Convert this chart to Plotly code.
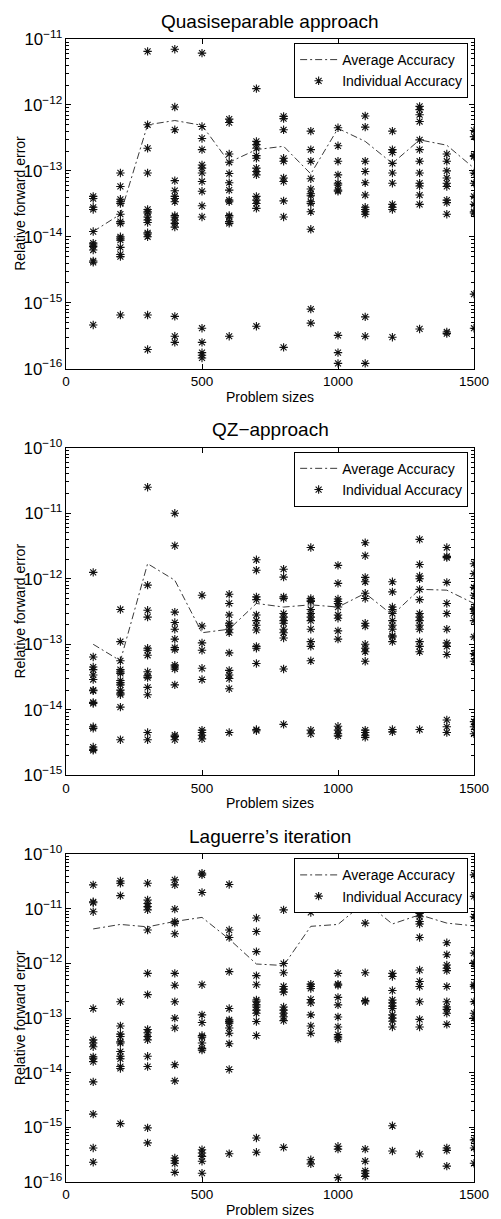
import plotly.graph_objects as go

# Problem sizes tested
sizes = [100, 200, 300, 400, 500, 600, 700, 800, 900, 1000, 1100, 1200, 1300, 1400, 1500]

# ---- Quasiseparable approach ----
qs_avg = [1.2e-14, 2.2e-14, 5.0e-13, 5.8e-13, 4.9e-13, 1.35e-13, 2.1e-13, 2.36e-13,
          9.0e-14, 4.4e-13, 2.8e-13, 1.3e-13, 2.95e-13, 2.45e-13, 1.1e-13]
qs_individual = [
    [4.1e-14, 3.8e-14, 2.8e-14, 2.6e-14, 1.2e-14, 8.0e-15, 7.5e-15, 7.1e-15, 6.3e-15, 4.3e-15, 4.1e-15, 4.6e-16],
    [9.3e-14, 5.8e-14, 3.7e-14, 3.4e-14, 3.2e-14, 2.2e-14, 1.7e-14, 1.6e-14, 1.0e-14, 9.5e-15, 8.9e-15, 6.9e-15, 5.4e-15, 5.0e-15, 6.5e-16],
    [6.5e-12, 5.0e-13, 2.2e-13, 9.3e-14, 2.6e-14, 2.4e-14, 2.3e-14, 2.0e-14, 1.8e-14, 1.65e-14, 1.15e-14, 1.1e-14, 1.0e-14, 6.5e-16, 1.95e-16],
    [7.0e-12, 9.3e-13, 4.2e-13, 7.1e-14, 5.0e-14, 4.1e-14, 3.8e-14, 3.4e-14, 2.1e-14, 2.0e-14, 1.8e-14, 1.6e-14, 1.4e-14, 6.2e-16, 3.1e-16, 2.5e-16],
    [6.1e-12, 4.7e-13, 3.1e-13, 2.1e-13, 1.23e-13, 1.1e-13, 9.3e-14, 6.9e-14, 4.9e-14, 2.95e-14, 2.0e-14, 4.1e-16, 2.5e-16, 1.75e-16, 1.6e-16, 1.45e-16],
    [6.1e-13, 5.4e-13, 1.8e-13, 1.35e-13, 9.1e-14, 6.6e-14, 5.1e-14, 3.6e-14, 3.4e-14, 2.1e-14, 2.0e-14, 1.7e-14, 1.6e-14, 3.1e-16],
    [1.77e-12, 2.8e-13, 2.5e-13, 2.2e-13, 1.7e-13, 1.55e-13, 1.1e-13, 9.8e-14, 8.7e-14, 4.1e-14, 3.6e-14, 3.2e-14, 2.7e-14, 4.4e-16],
    [6.7e-13, 6.2e-13, 4.2e-13, 1.55e-13, 1.4e-13, 7.8e-14, 6.9e-14, 3.5e-14, 2.0e-14, 2.1e-16],
    [4.0e-13, 2.1e-13, 1.4e-13, 7.6e-14, 5.3e-14, 4.5e-14, 4.2e-14, 3.4e-14, 3.2e-14, 2.4e-14, 1.3e-14, 8.0e-16, 4.9e-16],
    [4.5e-13, 2.4e-13, 1.4e-13, 8.7e-14, 6.5e-14, 6.1e-14, 5.1e-14, 4.9e-14, 3.2e-16, 1.75e-16, 1.2e-16],
    [6.8e-13, 4.6e-13, 1.4e-13, 9.8e-14, 6.6e-14, 4.3e-14, 2.8e-14, 2.6e-14, 2.4e-14, 2.2e-14, 6.1e-16, 3.1e-16, 1.2e-16],
    [4.0e-13, 2.1e-13, 1.9e-13, 1.3e-13, 9.3e-14, 6.5e-14, 3.1e-14, 2.8e-14, 2.6e-14, 3.0e-16],
    [9.5e-13, 8.5e-13, 7.1e-13, 5.6e-13, 2.95e-13, 2.1e-13, 1.4e-13, 9.3e-14, 6.5e-14, 5.9e-14, 4.3e-14, 3.1e-14, 4.0e-16],
    [1.8e-13, 1.4e-13, 1.0e-13, 7.8e-14, 6.5e-14, 5.8e-14, 3.6e-14, 3.3e-14, 2.2e-14, 3.6e-16, 3.4e-16],
    [4.1e-13, 3.3e-13, 1.7e-13, 1.65e-13, 9.3e-14, 6.5e-14, 4.1e-14, 3.1e-14, 2.4e-14, 2.3e-14, 1.35e-15, 4.1e-16],
]

# ---- QZ approach ----
qz_avg = [1.0e-13, 5.6e-14, 1.7e-12, 9.5e-13, 1.5e-13, 1.7e-13, 4.2e-13, 3.7e-13,
          4.0e-13, 3.7e-13, 6.0e-13, 2.8e-13, 6.9e-13, 6.7e-13, 4.2e-13]
qz_individual = [
    [1.25e-12, 6.4e-14, 4.5e-14, 4.1e-14, 3.4e-14, 2.9e-14, 2.0e-14, 1.95e-14, 1.3e-14, 1.25e-14, 5.5e-15, 5.2e-15, 2.7e-15, 2.5e-15, 2.4e-15],
    [3.4e-13, 1.1e-13, 5.6e-14, 4.1e-14, 3.8e-14, 3.6e-14, 2.8e-14, 2.6e-14, 2.4e-14, 2.0e-14, 1.8e-14, 1.7e-14, 1.1e-14, 3.5e-15],
    [2.5e-11, 8.0e-13, 3.3e-13, 2.6e-13, 8.7e-14, 8.1e-14, 6.8e-14, 3.8e-14, 3.3e-14, 3.1e-14, 2.2e-14, 1.7e-14, 4.5e-15, 3.5e-15],
    [1.0e-11, 3.2e-12, 3.1e-13, 2.15e-13, 1.7e-13, 1.2e-13, 8.9e-14, 8.3e-14, 4.8e-14, 4.5e-14, 4.2e-14, 2.4e-14, 4.1e-15, 3.9e-15, 3.5e-15],
    [5.6e-13, 1.9e-13, 1.05e-13, 8.1e-14, 4.3e-14, 2.9e-14, 4.9e-15, 4.5e-15, 4.1e-15, 3.6e-15],
    [5.8e-13, 4.2e-13, 2.8e-13, 2.1e-13, 1.95e-13, 1.7e-13, 1.5e-13, 7.4e-14, 4.0e-14, 3.4e-14, 3.0e-14, 2.1e-14, 4.5e-15],
    [1.95e-12, 1.35e-12, 5.3e-13, 4.8e-13, 2.8e-13, 2.3e-13, 1.95e-13, 1.65e-13, 9.3e-14, 8.7e-14, 5.1e-14, 5.0e-15, 4.8e-15],
    [1.4e-12, 1.06e-12, 5.3e-13, 5.0e-13, 2.95e-13, 2.6e-13, 2.3e-13, 2.1e-13, 1.7e-13, 1.5e-13, 1.25e-13, 4.2e-14, 6.0e-15],
    [3.0e-12, 5.0e-13, 4.7e-13, 4.5e-13, 3.4e-13, 2.95e-13, 2.6e-13, 2.3e-13, 1.7e-13, 1.1e-13, 9.3e-14, 5.6e-14, 4.9e-15, 4.3e-15],
    [1.6e-12, 8.5e-13, 4.9e-13, 4.5e-13, 4.2e-13, 3.7e-13, 2.8e-13, 2.5e-13, 1.6e-13, 1.2e-13, 5.6e-15, 4.9e-15, 4.3e-15, 4.0e-15],
    [3.55e-12, 2.25e-12, 1.05e-12, 9.0e-13, 6.0e-13, 5.0e-13, 2.1e-13, 1.9e-13, 1.0e-13, 8.7e-14, 7.7e-14, 5.5e-14, 4.9e-15, 4.5e-15, 4.1e-15, 3.8e-15],
    [9.0e-13, 6.3e-13, 3.7e-13, 3.4e-13, 2.95e-13, 2.3e-13, 1.95e-13, 1.7e-13, 1.35e-13, 1.3e-13, 1.1e-13, 5.0e-15, 4.6e-15],
    [4.0e-12, 1.65e-12, 1.1e-12, 1.0e-12, 6.9e-13, 4.8e-13, 2.95e-13, 2.6e-13, 2.3e-13, 1.95e-13, 1.7e-13, 1.1e-13, 9.3e-14, 7.7e-14, 5.0e-15],
    [3.0e-12, 2.2e-12, 2.1e-12, 8.8e-13, 4.2e-13, 2.95e-13, 1.7e-13, 1.05e-13, 9.3e-14, 7.0e-14, 7.0e-15, 5.5e-15, 4.5e-15],
    [1.7e-12, 1.2e-12, 7.4e-13, 5.6e-13, 3.5e-13, 3.4e-13, 2.95e-13, 2.3e-13, 1.3e-13, 7.2e-14, 5.5e-14, 6.6e-15, 5.5e-15, 4.3e-15],
]

# ---- Laguerre's iteration ----
lg_avg = [4.3e-12, 5.2e-12, 4.7e-12, 5.9e-12, 7.0e-12, 2.8e-12, 9.8e-13, 9.2e-13,
          4.8e-12, 5.2e-12, 1.35e-11, 5.3e-12, 7.8e-12, 5.5e-12, 4.9e-12]
lg_individual = [
    [2.75e-11, 1.35e-11, 1.3e-11, 8.9e-12, 1.5e-13, 4.0e-14, 3.5e-14, 3.0e-14, 1.95e-14, 1.8e-14, 1.6e-14, 6.8e-15, 1.75e-15, 4.2e-16, 2.3e-16],
    [3.25e-11, 2.95e-11, 1.75e-11, 2.0e-13, 7.2e-14, 5.1e-14, 4.6e-14, 3.7e-14, 3.5e-14, 2.45e-14, 2.0e-14, 1.8e-14, 1.3e-14, 1.2e-14, 1.17e-15],
    [2.95e-11, 1.46e-11, 1.26e-11, 1.1e-11, 9.6e-12, 4.1e-12, 6.6e-13, 2.7e-13, 6.2e-14, 5.4e-14, 4.6e-14, 4.0e-14, 2.0e-14, 1.3e-14, 9.8e-16, 5.2e-16],
    [3.4e-11, 2.75e-11, 9.9e-12, 5.9e-12, 5.5e-12, 3.5e-12, 6.6e-13, 4.0e-13, 2.0e-13, 1.0e-13, 6.6e-14, 1.4e-14, 7.1e-15, 2.75e-16, 2.45e-16, 2.2e-16, 1.5e-16],
    [4.5e-11, 4.2e-11, 2.0e-11, 4.1e-13, 1.15e-13, 8.3e-14, 4.8e-14, 4.5e-14, 3.5e-14, 2.8e-14, 2.6e-14, 3.9e-16, 3.4e-16, 2.95e-16, 2.4e-16, 1.45e-16],
    [2.8e-11, 4.1e-12, 3.0e-12, 7.1e-13, 1.5e-13, 9.3e-14, 8.7e-14, 8.1e-14, 6.6e-14, 5.3e-14, 3.4e-14, 1.15e-14, 3.3e-16],
    [6.8e-12, 3.85e-12, 1.65e-12, 6.0e-13, 4.1e-13, 2.15e-13, 2.0e-13, 1.75e-13, 1.6e-13, 1.4e-13, 1.23e-13, 8.7e-14, 4.8e-14, 6.4e-16, 3.5e-16],
    [9.6e-12, 1.0e-12, 6.8e-13, 3.8e-13, 3.4e-13, 3.0e-13, 1.6e-13, 1.4e-13, 1.23e-13, 1.06e-13, 9.0e-14, 4.3e-16],
    [8.6e-12, 4.2e-13, 3.8e-13, 3.5e-13, 2.2e-13, 1.9e-13, 1.15e-13, 7.2e-14, 5.3e-14, 2.55e-16, 2.15e-16],
    [6.6e-13, 4.2e-13, 4.0e-13, 2.4e-13, 1.75e-13, 1.05e-13, 6.9e-14, 5.0e-14, 4.5e-14, 4.15e-14, 4.5e-16, 4.0e-16, 1.2e-16],
    [1.6e-11, 1.5e-11, 1.4e-11, 1.17e-11, 1.1e-11, 5.5e-12, 6.8e-13, 2.1e-13, 2.0e-13, 4.0e-16, 2.4e-16, 1.6e-16, 1.45e-16, 1.27e-16],
    [1.13e-11, 1.03e-11, 6.6e-13, 5.8e-13, 3.2e-13, 2.15e-13, 1.9e-13, 1.66e-13, 1.5e-13, 1.15e-13, 1.0e-13, 8.8e-14, 6.9e-14, 1.07e-15, 3.7e-16],
    [8.3e-12, 7.2e-12, 5.9e-12, 5.3e-12, 3.0e-12, 7.6e-13, 4.7e-13, 3.8e-13, 2.0e-13, 9.5e-14, 6.9e-14, 3.25e-16],
    [2.4e-12, 1.45e-12, 9.4e-13, 8.2e-13, 7.4e-13, 3.8e-13, 2.0e-13, 1.6e-13, 1.45e-13, 1.23e-13, 7.7e-14, 4.2e-16, 3.8e-16, 1.95e-16],
    [4.2e-11, 1.7e-11, 7.2e-12, 1.55e-12, 1.03e-12, 1.0e-12, 4.1e-13, 3.8e-13, 2.0e-13, 1.23e-13, 1.0e-13, 5.9e-16, 4.2e-16, 2.2e-16],
]

titles = ["Quasiseparable approach", "QZ\u2212approach", "Laguerre\u2019s iteration"]
y_ranges = [[-16, -11], [-15, -10], [-16, -10]]
y_domains = [[0.7116, 1.0], [0.3558, 0.6424], [0.0, 0.2867]]

FONT = "Liberation Sans, Arial, Helvetica, sans-serif"
W, H = 501, 1219
M_L, M_R, M_T, M_B = 66, 18, 39, 37
plot_h = H - M_T - M_B
plot_w = W - M_L - M_R

fig = go.Figure()

panels = [(qs_avg, qs_individual), (qz_avg, qz_individual), (lg_avg, lg_individual)]
for i, (avg, indiv) in enumerate(panels):
    ax = "" if i == 0 else str(i + 1)
    leg = "legend" if i == 0 else f"legend{i + 1}"
    xs, ys = [], []
    for n, vals in zip(sizes, indiv):
        xs.extend([n] * len(vals))
        ys.extend(vals)
    fig.add_trace(go.Scatter(
        x=sizes, y=avg, mode="lines", name="Average Accuracy",
        line=dict(color="#3a3a3a", width=1, dash="7px,3px,2px,3px"),
        xaxis="x" + ax, yaxis="y" + ax, legend=leg,
    ))
    fig.add_trace(go.Scatter(
        x=xs, y=ys, mode="markers", name="Individual Accuracy",
        marker=dict(symbol="asterisk-open", size=7, color="#111111",
                    line=dict(color="#111111", width=1.1)),
        xaxis="x" + ax, yaxis="y" + ax, legend=leg,
    ))

layout = dict(
    width=W, height=H,
    margin=dict(l=M_L, r=M_R, t=M_T, b=M_B),
    paper_bgcolor="white", plot_bgcolor="white",
    font=dict(family=FONT, size=13, color="black"),
    showlegend=True,
    annotations=[],
)

axis_common = dict(
    showline=True, linecolor="black", linewidth=1, mirror="ticks",
    ticks="inside", ticklen=5, tickcolor="black", tickwidth=1,
    showgrid=False, zeroline=False,
    tickfont=dict(family=FONT, size=13.5, color="black"),
)

for i in range(3):
    sfx = "" if i == 0 else str(i + 1)
    layout["xaxis" + sfx] = dict(
        axis_common, range=[0, 1500], tickvals=[0, 500, 1000, 1500],
        anchor="y" + sfx, domain=[0, 1],
    )
    layout["yaxis" + sfx] = dict(
        axis_common, type="log", range=y_ranges[i], dtick=1,
        exponentformat="power", showexponent="all",
        minor=dict(ticks="inside", ticklen=3, tickcolor="black", showgrid=False),
        anchor="x" + sfx, domain=y_domains[i],
    )
    top_px = M_T + (1 - y_domains[i][1]) * plot_h
    bot_px = M_T + (1 - y_domains[i][0]) * plot_h
    leg = "legend" if i == 0 else f"legend{i + 1}"
    layout[leg] = dict(
        x=(477 - M_L) / plot_w, y=1 - (top_px + 4 - M_T) / plot_h,
        xanchor="right", yanchor="top", xref="paper", yref="paper",
        bgcolor="white", bordercolor="black", borderwidth=1,
        font=dict(family=FONT, size=14, color="black"),
        tracegroupgap=0, itemwidth=37,
    )
    # panel title
    layout["annotations"].append(dict(
        text=titles[i], xref="paper", yref="paper", x=0.5,
        y=1 - (top_px - 18 - M_T) / plot_h, xanchor="center", yanchor="middle",
        showarrow=False, font=dict(family=FONT, size=19, color="black"),
    ))
    # x axis label
    layout["annotations"].append(dict(
        text="Problem sizes", xref="paper", yref="paper", x=0.5,
        y=1 - (bot_px + 28 - M_T) / plot_h, xanchor="center", yanchor="middle",
        showarrow=False, font=dict(family=FONT, size=14, color="black"),
    ))
    # y axis label
    layout["annotations"].append(dict(
        text="Relative forward error", xref="paper", yref="paper",
        x=(19 - M_L) / plot_w, y=(y_domains[i][0] + y_domains[i][1]) / 2,
        xanchor="center", yanchor="middle", textangle=-90,
        showarrow=False, font=dict(family=FONT, size=14, color="black"),
    ))

fig.update_layout(**layout)
fig.write_html("out.html")
